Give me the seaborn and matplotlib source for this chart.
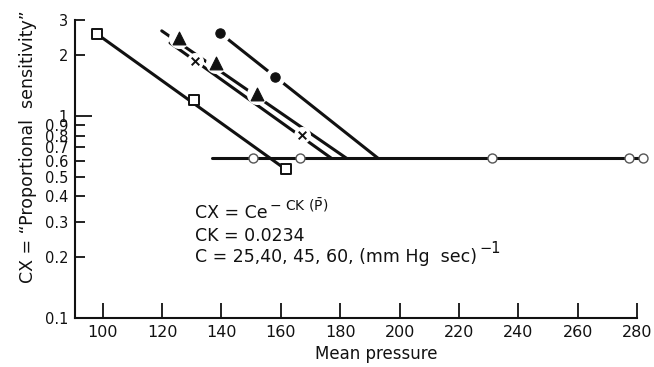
import matplotlib
matplotlib.use("Agg")
import matplotlib.pyplot as plt
import pandas as pd
import seaborn as sns

# Measured points: mean pressure vs proportional sensitivity (CX)
sq_p = [98.2, 130.7, 161.6]
sq_v = [2.55, 1.20, 0.545]
tri_p = [125.8, 138.0, 152.1]
tri_v = [2.43, 1.83, 1.29]
x_p = [131.1, 167.0]
x_v = [1.88, 0.806]
dot_p = [139.6, 158.0]
dot_v = [2.58, 1.57]
flat_p = [150.7, 166.4, 231.2, 277.2, 281.9]
flat_v = [0.617, 0.617, 0.617, 0.617, 0.617]

# Fitted lines (end points)
sq_line_p = [98.2, 161.6]
sq_line_v = [2.55, 0.545]
tri_line_p = [119.9, 182.2]
tri_line_v = [2.65, 0.617]
x_line_p = [122.7, 177.1]
x_line_v = [2.31, 0.617]
dot_line_p = [139.6, 192.8]
dot_line_v = [2.58, 0.617]
flat_line_p = [136.7, 281.9]
flat_line_v = [0.617, 0.617]

x_ticks = [100, 120, 140, 160, 180, 200, 220, 240, 260, 280]
y_ticks = [0.1, 0.2, 0.3, 0.4, 0.5, 0.6, 0.7, 0.8, 0.9, 1, 2, 3]
y_tick_labels = ["0.1", "0.2", "0.3", "0.4", "0.5", "0.6", "0.7", "0.8", "0.9", "1", "2", "3"]

sns.set_style("ticks")
plt.rcParams["font.family"] = ["DejaVu Sans"]
plt.rcParams["mathtext.fontset"] = "dejavusans"

INK = "#111111"
fig = plt.figure(figsize=(6.54, 3.67), dpi=100)
ax = fig.add_axes([0.1147, 0.1343, 0.8847, 0.8112])
ax.set_yscale("log")

LW = 2.2
for lp, lv in [(sq_line_p, sq_line_v), (tri_line_p, tri_line_v),
               (x_line_p, x_line_v), (dot_line_p, dot_line_v),
               (flat_line_p, flat_line_v)]:
    d = pd.DataFrame({"p": lp, "v": lv})
    sns.lineplot(data=d, x="p", y="v", ax=ax, color=INK, lw=LW,
                 sort=False, estimator=None, zorder=2)


def markers(px, vy, marker, size, face, edge, lw, halo):
    d = pd.DataFrame({"p": px, "v": vy})
    if halo:
        sns.scatterplot(data=d, x="p", y="v", ax=ax, marker="o", s=halo,
                        color="white", linewidth=0, zorder=3)
    sns.scatterplot(data=d, x="p", y="v", ax=ax, marker=marker, s=size,
                    facecolor=face, edgecolor=edge, linewidth=lw, zorder=4)


markers(sq_p, sq_v, "s", 60, "white", INK, 1.4, 0)
markers(tri_p, tri_v, "^", 85, INK, INK, 0.8, 230)
markers(x_p, x_v, "x", 30, INK, INK, 1.4, 150)
markers(dot_p, dot_v, "o", 45, INK, INK, 0.8, 200)
markers(flat_p, flat_v, "o", 42, "white", "#555555", 1.0, 0)

ax.set_xlim(90.7, 285.5)
ax.set_ylim(0.1, 3)
ax.set_xticks(x_ticks)
ax.set_xticklabels([str(t) for t in x_ticks])
ax.set_yticks(y_ticks)
ax.set_yticklabels(y_tick_labels)
ax.yaxis.set_minor_locator(matplotlib.ticker.NullLocator())

for s in ["top", "right"]:
    ax.spines[s].set_visible(False)
ax.spines["bottom"].set_bounds(90.7, 280)
for s in ["left", "bottom"]:
    ax.spines[s].set_linewidth(1.5)
    ax.spines[s].set_color(INK)

ax.tick_params(axis="x", direction="in", length=11, width=1.3, pad=5,
               labelsize=11.5, colors=INK)
ax.tick_params(axis="y", direction="in", length=7, width=1.3, pad=5,
               labelsize=10.5, colors=INK)
for t, val in zip(ax.yaxis.get_major_ticks(), y_ticks):
    if val == 1:
        t.tick1line.set_markersize(12)

ax.set_xlabel("Mean pressure", fontsize=12, color=INK)
ax.xaxis.set_label_coords(0.52, -0.092)
ax.set_ylabel("CX = \u201cProportional  sensitivity\u201d", fontsize=12.5,
              color=INK)
ax.yaxis.set_label_coords(-0.066, 0.575)

txt = dict(fontsize=12.5, color=INK, ha="left", va="baseline")
eq = ax.text(131.1, 0.3125, "CX = Ce", **txt)
ax.annotate(r"$\mathregular{-\ CK\ (\bar{P})}$", xy=(1.0, 0.95), xycoords=eq,
            xytext=(1, 0), textcoords="offset points", fontsize=10,
            color=INK, ha="left", va="center")
ax.text(131.1, 0.2403, "CK = 0.0234", **txt)
units = ax.text(131.1, 0.1897, "C = 25,40, 45, 60, (mm Hg  sec)", **txt)
ax.annotate("\u22121", xy=(1.0, 0.95), xycoords=units, xytext=(2, 0),
            textcoords="offset points", fontsize=10.5, color=INK,
            ha="left", va="center")

fig.savefig("out.png", dpi=100, facecolor="white")
